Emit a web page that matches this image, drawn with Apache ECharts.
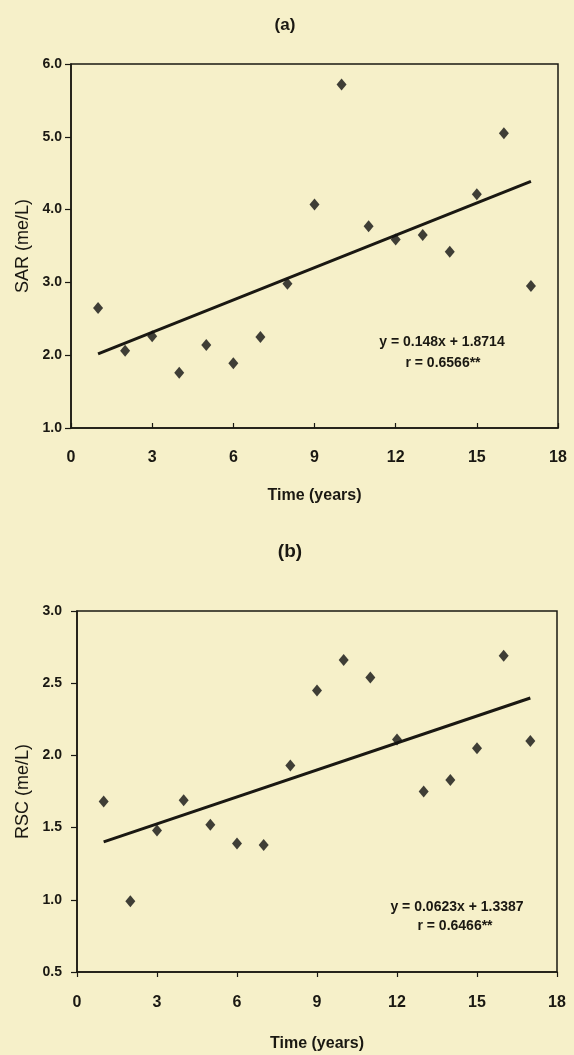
<!DOCTYPE html>
<html>
<head>
<meta charset="utf-8">
<script src="https://cdn.jsdelivr.net/npm/echarts@6/dist/echarts.min.js"></script>
<style>
  html, body { margin: 0; padding: 0; background: #f6f0c9; }
  #main { width: 574px; height: 1055px; }
</style>
</head>
<body>
<div id="main"></div>
<script>
// 数据
const years = [1, 2, 3, 4, 5, 6, 7, 8, 9, 10, 11, 12, 13, 14, 15, 16, 17];
const sarValues = [2.65, 2.06, 2.26, 1.76, 2.14, 1.89, 2.25, 2.98, 4.07, 5.72, 3.77, 3.59, 3.65, 3.42, 4.21, 5.05, 2.95];
const rscValues = [1.68, 0.99, 1.48, 1.69, 1.52, 1.39, 1.38, 1.93, 2.45, 2.66, 2.54, 2.11, 1.75, 1.83, 2.05, 2.69, 2.10];
// 回归方程 y = a x + b
const sarFit = { slope: 0.148, intercept: 1.8714, r: '0.6566' };
const rscFit = { slope: 0.0623, intercept: 1.3387, r: '0.6466' };
const xTicks = [0, 3, 6, 9, 12, 15, 18];
const sarTicks = [1.0, 2.0, 3.0, 4.0, 5.0, 6.0];
const rscTicks = [0.5, 1.0, 1.5, 2.0, 2.5, 3.0];

(function () {
    let myChart = echarts.init(document.getElementById('main'));
    const ink = '#1a1812';
    const font = "'Liberation Sans', Arial, sans-serif";

    function pairs(ys) {
        return years.map((x, i) => [x, ys[i]]);
    }
    function fitLine(fit) {
        const x0 = years[0], x1 = years[years.length - 1];
        return [[x0, fit.slope * x0 + fit.intercept], [x1, fit.slope * x1 + fit.intercept]];
    }
    function xAxisCfg(gridIndex, tickInside, labelMargin, nameGap) {
        return {
            gridIndex: gridIndex,
            type: 'value',
            min: xTicks[0],
            max: xTicks[xTicks.length - 1],
            interval: 3,
            name: 'Time (years)',
            nameLocation: 'middle',
            nameGap: nameGap,
            nameTextStyle: { color: ink, fontSize: 16, fontWeight: 'bold', fontFamily: font },
            axisLine: { lineStyle: { color: ink, width: 1.5 } },
            axisTick: { inside: tickInside, length: 5, lineStyle: { color: ink, width: 1.2 } },
            axisLabel: { color: ink, fontSize: 16, fontWeight: 'bold', fontFamily: font, margin: labelMargin },
            splitLine: { show: false }
        };
    }
    function yAxisCfg(gridIndex, ticks, interval, name, labelMargin, nameGap) {
        return {
            gridIndex: gridIndex,
            type: 'value',
            min: ticks[0],
            max: ticks[ticks.length - 1],
            interval: interval,
            name: name,
            nameLocation: 'middle',
            nameGap: nameGap,
            nameTextStyle: { color: ink, fontSize: 18, fontFamily: font },
            axisLine: { lineStyle: { color: ink, width: 1.5 } },
            axisTick: { inside: false, length: 6, lineStyle: { color: ink, width: 1.2 } },
            axisLabel: {
                color: ink, fontSize: 14, fontWeight: 'bold', fontFamily: font, margin: labelMargin,
                formatter: v => v.toFixed(1)
            },
            splitLine: { show: false }
        };
    }
    function eqText(x, y, text) {
        return {
            type: 'text', x: x, y: y,
            style: {
                text: text, fill: ink, fontSize: 14, fontWeight: 'bold', fontFamily: font,
                align: 'center', verticalAlign: 'middle'
            }
        };
    }

    let option = {
        backgroundColor: '#f6f0c9',
        animation: false,
        grid: [
            { left: 71, top: 64, width: 487, height: 364, show: true, borderColor: ink, borderWidth: 1.5, backgroundColor: 'transparent' },
            { left: 77, top: 611, width: 480, height: 361, show: true, borderColor: ink, borderWidth: 1.5, backgroundColor: 'transparent' }
        ],
        xAxis: [
            xAxisCfg(0, true, 22, 60),
            xAxisCfg(1, false, 23, 64)
        ],
        yAxis: [
            yAxisCfg(0, sarTicks, 1, 'SAR (me/L)', 9, 34),
            yAxisCfg(1, rscTicks, 0.5, 'RSC (me/L)', 15, 40)
        ],
        graphic: [
            { type: 'text', x: 285, y: 25, style: { text: '(a)', fill: ink, fontSize: 17, fontWeight: 'bold', fontFamily: font, align: 'center', verticalAlign: 'middle' } },
            { type: 'text', x: 290, y: 552, style: { text: '(b)', fill: ink, fontSize: 19, fontWeight: 'bold', fontFamily: font, align: 'center', verticalAlign: 'middle' } },
            eqText(442, 342, 'y = ' + sarFit.slope + 'x + ' + sarFit.intercept),
            eqText(443, 363, 'r = ' + sarFit.r + '**'),
            eqText(457, 907, 'y = ' + rscFit.slope + 'x + ' + rscFit.intercept),
            eqText(455, 926, 'r = ' + rscFit.r + '**')
        ],
        series: [
            {
                type: 'line', xAxisIndex: 0, yAxisIndex: 0,
                data: fitLine(sarFit), symbol: 'none',
                lineStyle: { color: ink, width: 3 }, z: 2
            },
            {
                type: 'scatter', xAxisIndex: 0, yAxisIndex: 0,
                data: pairs(sarValues), symbol: 'diamond', symbolSize: [10, 12],
                itemStyle: { color: '#111' }, z: 3
            },
            {
                type: 'line', xAxisIndex: 1, yAxisIndex: 1,
                data: fitLine(rscFit), symbol: 'none',
                lineStyle: { color: ink, width: 3 }, z: 2
            },
            {
                type: 'scatter', xAxisIndex: 1, yAxisIndex: 1,
                data: pairs(rscValues), symbol: 'diamond', symbolSize: [10, 12],
                itemStyle: { color: '#111' }, z: 3
            }
        ]
    };
    myChart.setOption(option);
})();
</script>
</body>
</html>
